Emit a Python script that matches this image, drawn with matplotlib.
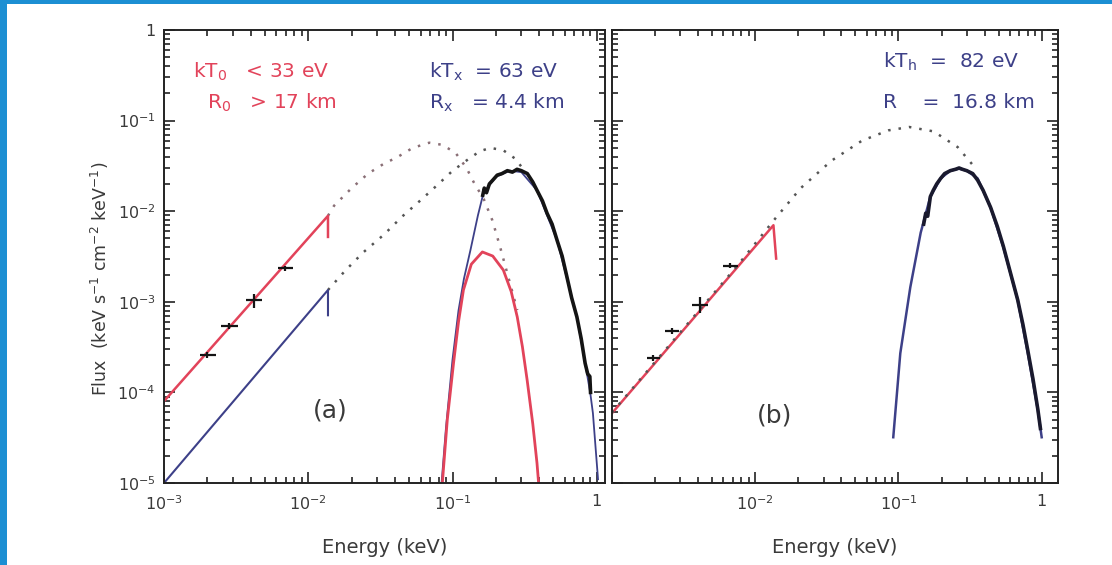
import math
import matplotlib
matplotlib.use('Agg')
import matplotlib.pyplot as plt
from matplotlib.patches import Rectangle
from matplotlib.ticker import LogLocator, FuncFormatter, NullFormatter

# ---------------- panel (a) ----------------
a_red_line_E = [1e-3, 1.37e-2, 1.37e-2]
a_red_line_F = [8.0e-5, 8.9e-3, 5.2e-3]
a_blue_line_E = [1e-3, 1.37e-2, 1.37e-2]
a_blue_line_F = [1.0e-5, 1.35e-3, 7.1e-4]

a_red_dot_E = [0.0137, 0.0151, 0.020, 0.026, 0.033, 0.042, 0.053, 0.069, 0.085, 0.105, 0.125,
               0.14, 0.165, 0.189, 0.214, 0.243, 0.281]
a_red_dot_F = [8.9e-3, 0.0115, 0.018, 0.026, 0.033, 0.040, 0.050, 0.057, 0.054, 0.044, 0.030,
               0.021, 0.0135, 0.0079, 0.0040, 0.0019, 8.1e-4]

a_blk_dot_E = [0.0137, 0.018, 0.024, 0.0334, 0.045, 0.061, 0.08, 0.099, 0.13, 0.155, 0.183,
               0.225, 0.272, 0.30]
a_blk_dot_F = [1.35e-3, 2.2e-3, 3.5e-3, 5.5e-3, 8.8e-3, 0.0135, 0.020, 0.0275, 0.038, 0.046,
               0.050, 0.047, 0.038, 0.031]

a_red_abs_E = [0.085, 0.092, 0.1016, 0.11, 0.119, 0.135, 0.161, 0.19, 0.225, 0.255, 0.281,
               0.305, 0.329, 0.36, 0.385, 0.395]
a_red_abs_F = [1.0e-5, 5e-5, 2.1e-4, 6e-4, 1.35e-3, 2.6e-3, 3.55e-3, 3.2e-3, 2.24e-3, 1.3e-3,
               6.8e-4, 3.2e-4, 1.37e-4, 4.5e-5, 1.66e-5, 1.0e-5]

a_blue_abs_E = [0.084, 0.09, 0.1, 0.11, 0.12, 0.133, 0.15, 0.164, 0.2, 0.25, 0.3, 0.385, 0.53,
                0.728, 0.83, 0.9, 0.94, 0.98, 1.02]
a_blue_abs_F = [1e-5, 4e-5, 2.3e-4, 8e-4, 1.8e-3, 3.7e-3, 9e-3, 0.016, 0.024, 0.028, 0.027,
                0.017, 0.0048, 6.8e-4, 2.1e-4, 1.0e-4, 5.9e-5, 2.5e-5, 1.1e-5]

a_data_E = [0.162, 0.166, 0.172, 0.18, 0.19, 0.204, 0.22, 0.24, 0.26, 0.28, 0.30, 0.33, 0.36,
            0.385, 0.42, 0.452, 0.49, 0.53, 0.575, 0.62, 0.67, 0.728, 0.78, 0.83, 0.865,
            0.895, 0.905]
a_data_F = [0.015, 0.018, 0.016, 0.020, 0.022, 0.025, 0.026, 0.028, 0.027, 0.029, 0.028,
            0.026, 0.021, 0.017, 0.013, 0.0095, 0.0072, 0.0048, 0.0032, 0.0019, 0.0011,
            6.8e-4, 3.9e-4, 2.1e-4, 1.6e-4, 1.5e-4, 1.0e-4]

a_pts_E = [2.0e-3, 2.8e-3, 4.2e-3, 6.9e-3]
a_pts_Elo = [1.78e-3, 2.47e-3, 3.7e-3, 6.2e-3]
a_pts_Ehi = [2.3e-3, 3.25e-3, 4.8e-3, 7.9e-3]
a_pts_F = [2.6e-4, 5.4e-4, 1.05e-3, 2.35e-3]
a_pts_Flo = [2.4e-4, 5.0e-4, 8.5e-4, 2.2e-3]
a_pts_Fhi = [2.8e-4, 5.8e-4, 1.22e-3, 2.5e-3]

# ---------------- panel (b) ----------------
b_red_line_E = [1e-3, 1.34e-2, 1.4e-2]
b_red_line_F = [5.9e-5, 7.0e-3, 3.0e-3]

b_blk_dot_E = [1e-3, 0.003, 0.0075, 0.0138, 0.0208, 0.034, 0.0556, 0.085, 0.119, 0.176,
               0.259, 0.338]
b_blk_dot_F = [6.0e-5, 4.6e-4, 2.5e-3, 8.3e-3, 0.018, 0.036, 0.060, 0.078, 0.085, 0.076,
               0.051, 0.031]

b_model_E = [0.092, 0.103, 0.121, 0.143, 0.167, 0.197, 0.23, 0.265, 0.30, 0.357, 0.44, 0.54,
             0.68, 0.8, 0.94, 1.0]
b_model_F = [3.2e-5, 2.7e-4, 1.45e-3, 5.8e-3, 0.0145, 0.023, 0.028, 0.0295, 0.028, 0.023,
             0.011, 0.004, 1.05e-3, 2.7e-4, 6.4e-5, 3.2e-5]

b_data_E = [0.15, 0.155, 0.16, 0.167, 0.175, 0.185, 0.197, 0.21, 0.23, 0.25, 0.265, 0.28,
            0.30, 0.33, 0.357, 0.39, 0.44, 0.49, 0.54, 0.6, 0.68, 0.74, 0.8, 0.87, 0.94, 0.98]
b_data_F = [0.0072, 0.0095, 0.0088, 0.0145, 0.017, 0.020, 0.023, 0.026, 0.028, 0.029, 0.030,
            0.029, 0.028, 0.026, 0.022, 0.017, 0.011, 0.0068, 0.0041, 0.0022, 0.00105, 5.6e-4,
            2.9e-4, 1.4e-4, 6.5e-5, 4e-5]

b_pts_E = [1.94e-3, 2.63e-3, 4.1e-3, 6.7e-3]
b_pts_Elo = [1.75e-3, 2.35e-3, 3.6e-3, 6.0e-3]
b_pts_Ehi = [2.15e-3, 2.95e-3, 4.7e-3, 7.6e-3]
b_pts_F = [2.4e-4, 4.8e-4, 9.3e-4, 2.5e-3]
b_pts_Flo = [2.2e-4, 4.4e-4, 7.6e-4, 2.35e-3]
b_pts_Fhi = [2.6e-4, 5.2e-4, 1.12e-3, 2.65e-3]

RED = '#e2435a'
NAVY = '#3d4088'
TXT = '#3a3a3a'

plt.rcParams['font.family'] = ['DejaVu Sans']
plt.rcParams['mathtext.default'] = 'regular'

W, H = 1112, 565
fig = plt.figure(figsize=(W / 100, H / 100), dpi=100)
fig.patch.set_facecolor('white')

# blue frame strips (left and top)
fig.patches.append(Rectangle((0, 0), 7 / W, 1, transform=fig.transFigure,
                             facecolor='#1c8fd3', edgecolor='none'))
fig.patches.append(Rectangle((0, 1 - 4 / H), 1, 4 / H, transform=fig.transFigure,
                             facecolor='#1c8fd3', edgecolor='none'))

ax_a = fig.add_axes([164 / W, 1 - 483 / H, 441 / W, 453 / H])
ax_b = fig.add_axes([612 / W, 1 - 483 / H, 446 / W, 453 / H])


def logfmt(v, pos):
    e = int(round(math.log10(v)))
    return '1' if e == 0 else r'$10^{%d}$' % e


def logfmt_b(v, pos):
    e = int(round(math.log10(v)))
    return '' if e == -3 else logfmt(v, pos)


def errs(c, lo, hi):
    return [[c[i] - lo[i] for i in range(len(c))], [hi[i] - c[i] for i in range(len(c))]]


def style(ax, xmax, xfmt):
    ax.set_xscale('log')
    ax.set_yscale('log')
    ax.set_xlim(1e-3, xmax)
    ax.set_ylim(1e-5, 1)
    ax.xaxis.set_major_locator(LogLocator(base=10, numticks=10))
    ax.yaxis.set_major_locator(LogLocator(base=10, numticks=10))
    ax.xaxis.set_minor_locator(LogLocator(base=10, subs=range(2, 10), numticks=20))
    ax.yaxis.set_minor_locator(LogLocator(base=10, subs=range(2, 10), numticks=20))
    ax.xaxis.set_major_formatter(FuncFormatter(xfmt))
    ax.yaxis.set_major_formatter(FuncFormatter(logfmt))
    ax.xaxis.set_minor_formatter(NullFormatter())
    ax.yaxis.set_minor_formatter(NullFormatter())
    ax.tick_params(which='both', direction='in', top=True, right=True, colors='#222',
                   labelcolor=TXT, labelsize=11.5, width=1.2)
    ax.tick_params(which='major', length=8)
    ax.tick_params(which='minor', length=4)
    ax.tick_params(axis='x', pad=8)
    ax.tick_params(axis='y', pad=6)
    for s in ax.spines.values():
        s.set_linewidth(1.4)
        s.set_color('#222')
    ax.set_xlabel('Energy (keV)', fontsize=14, color=TXT, labelpad=18)


style(ax_a, 1.14, logfmt)
style(ax_b, 1.3, logfmt_b)
ax_b.tick_params(labelleft=False)

ax_a.set_ylabel(r'Flux  (keV s$^{-1}$ cm$^{-2}$ keV$^{-1}$)', fontsize=12.5, color=TXT)
ax_a.yaxis.set_label_coords(-0.12, 0.45)

dot = (0, (1, 3.2))

# panel (a)
ax_a.plot(a_red_dot_E, a_red_dot_F, color='#8a6f76', lw=1.8, ls=dot)
ax_a.plot(a_blk_dot_E, a_blk_dot_F, color='#555555', lw=1.8, ls=dot)
ax_a.plot(a_blue_abs_E, a_blue_abs_F, color=NAVY, lw=1.3)
ax_a.plot(a_red_abs_E, a_red_abs_F, color=RED, lw=2.0)
ax_a.plot(a_red_line_E, a_red_line_F, color=RED, lw=1.8)
ax_a.plot(a_blue_line_E, a_blue_line_F, color=NAVY, lw=1.5)
ax_a.plot(a_data_E, a_data_F, color='#141414', lw=2.6)
ax_a.errorbar(a_pts_E, a_pts_F, xerr=errs(a_pts_E, a_pts_Elo, a_pts_Ehi),
              yerr=errs(a_pts_F, a_pts_Flo, a_pts_Fhi), fmt='none', ecolor='#141414',
              elinewidth=1.6, capsize=0)

ax_a.text(0.066, 0.907, r'kT$_0$   < 33 eV', transform=ax_a.transAxes, color=RED,
          fontsize=14.5, va='center', ha='left')
ax_a.text(0.0975, 0.839, r'R$_0$   > 17 km', transform=ax_a.transAxes, color=RED,
          fontsize=14.5, va='center', ha='left')
ax_a.text(0.601, 0.907, r'kT$_x$  = 63 eV', transform=ax_a.transAxes, color=NAVY,
          fontsize=14.5, va='center', ha='left')
ax_a.text(0.601, 0.839, r'R$_x$   = 4.4 km', transform=ax_a.transAxes, color=NAVY,
          fontsize=14.5, va='center', ha='left')
ax_a.text(0.376, 0.161, '(a)', transform=ax_a.transAxes, color=TXT, fontsize=18,
          va='center', ha='center')

# panel (b)
ax_b.plot(b_red_line_E, b_red_line_F, color=RED, lw=1.8)
ax_b.plot(b_blk_dot_E, b_blk_dot_F, color='#555555', lw=1.8, ls=dot)
ax_b.plot(b_model_E, b_model_F, color=NAVY, lw=1.8)
ax_b.plot(b_data_E, b_data_F, color='#1a1a2e', lw=2.6)
ax_b.errorbar(b_pts_E, b_pts_F, xerr=errs(b_pts_E, b_pts_Elo, b_pts_Ehi),
              yerr=errs(b_pts_F, b_pts_Flo, b_pts_Fhi), fmt='none', ecolor='#141414',
              elinewidth=1.6, capsize=0)

ax_b.text(0.608, 0.929, r'kT$_h$  =  82 eV', transform=ax_b.transAxes, color=NAVY,
          fontsize=14.5, va='center', ha='left')
ax_b.text(0.608, 0.841, r'R    =  16.8 km', transform=ax_b.transAxes, color=NAVY,
          fontsize=14.5, va='center', ha='left')
ax_b.text(0.365, 0.150, '(b)', transform=ax_b.transAxes, color=TXT, fontsize=18,
          va='center', ha='center')

fig.savefig('out.png', dpi=100)
